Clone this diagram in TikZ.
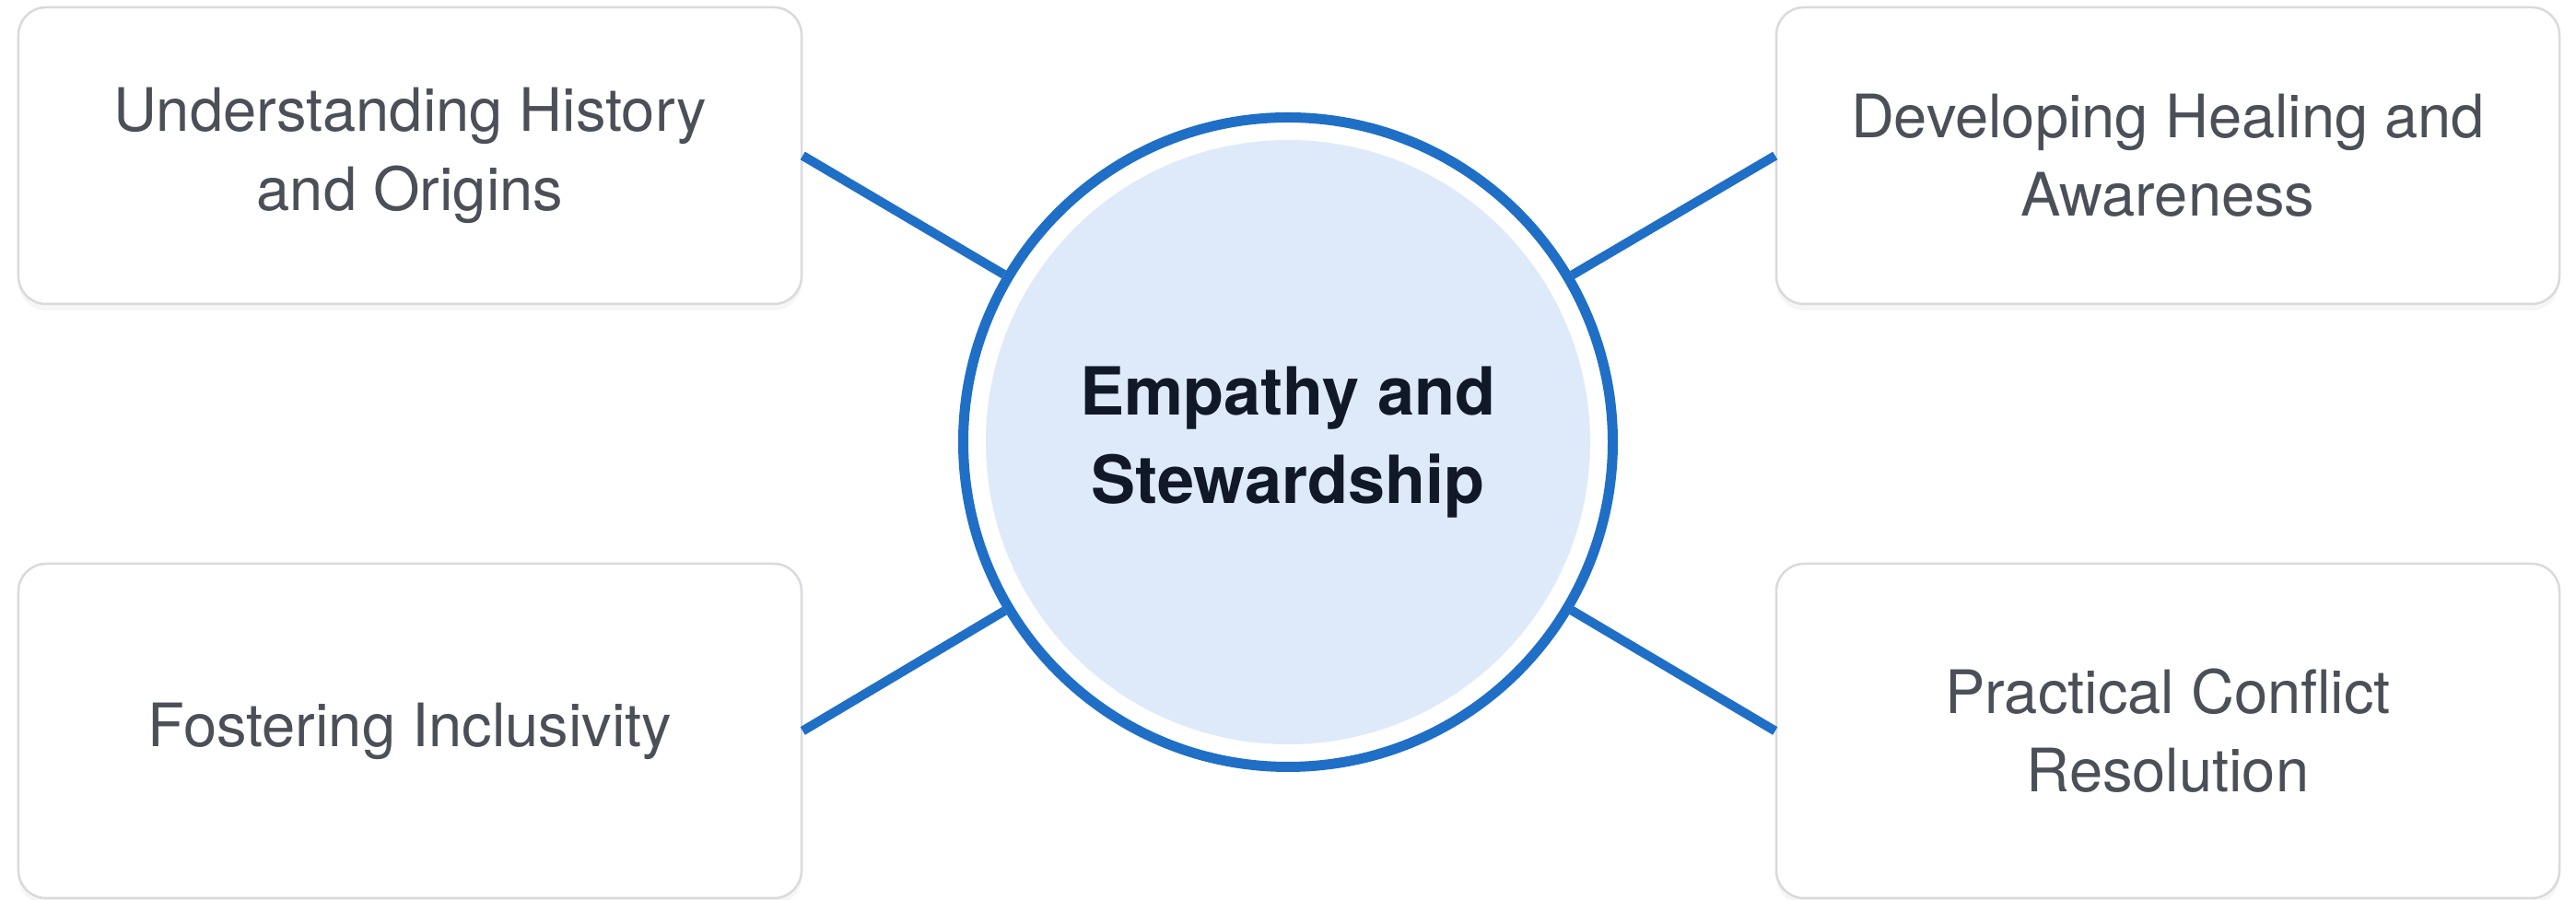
\documentclass[tikz,border=0pt]{standalone}
\usepackage{fontspec}
\setmainfont{TeX Gyre Heros}
\usetikzlibrary{shadows}
\definecolor{ringblue}{RGB}{31,111,199}
\definecolor{hubfill}{RGB}{222,234,250}
\definecolor{boxline}{RGB}{216,218,222}
\definecolor{boxtext}{RGB}{75,80,88}
\definecolor{hubtext}{RGB}{17,24,39}
\tikzset{
	topic/.style={draw=boxline, line width=0.025cm, fill=white, rounded corners=0.3cm,
		minimum width=8.5cm, align=center, text=boxtext,
		font=\fontsize{18.5}{24.3}\selectfont,
		drop shadow={opacity=0.07, shadow xshift=0cm, shadow yshift=-0.07cm}},
	link/.style={ringblue, line width=0.1cm},
}
\begin{document}
\begin{tikzpicture}
		\useasboundingbox[fill=white] (0,0) rectangle (27.96,-9.77);

		% centre
		\node[circle, draw=ringblue, line width=0.11cm, fill=white, minimum size=7.05cm] (hub) at (13.98,-4.80) {};
		\node[circle, fill=hubfill, minimum size=6.56cm, text=hubtext, align=center,
			font=\bfseries\fontsize{20.5}{27.3}\selectfont] (core) at (hub) {Empathy and\\Stewardship};

		% topics
		\node[topic, minimum height=3.22cm] (history) at (4.45,-1.69) {Understanding History\\and Origins};
		\node[topic, minimum height=3.22cm] (healing) at (23.53,-1.69) {Developing Healing and\\Awareness};
		\node[topic, minimum height=3.63cm] (inclusion) at (4.45,-7.935) {Fostering Inclusivity};
		\node[topic, minimum height=3.63cm] (conflict) at (23.53,-7.935) {Practical Conflict\\Resolution};

		\draw[link] (history.east) -- (hub);
		\draw[link] (healing.west) -- (hub);
		\draw[link] (inclusion.east) -- (hub);
		\draw[link] (conflict.west) -- (hub);

	\end{tikzpicture}
\end{document}
